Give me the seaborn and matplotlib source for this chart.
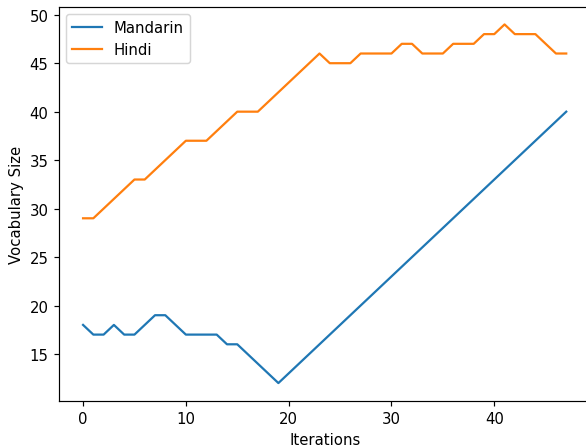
import matplotlib
matplotlib.use("Agg")
import matplotlib.pyplot as plt
import seaborn as sns
import pandas as pd

iterations = list(range(48))
mandarin = [18, 17, 17, 18, 17, 17, 18, 19, 19, 18, 17, 17, 17, 17, 16, 16, 15, 14, 13, 12,
            13, 14, 15, 16, 17, 18, 19, 20, 21, 22, 23, 24, 25, 26, 27, 28, 29, 30, 31, 32,
            33, 34, 35, 36, 37, 38, 39, 40]
hindi = [29, 29, 30, 31, 32, 33, 33, 34, 35, 36, 37, 37, 37, 38, 39, 40, 40, 40, 41, 42,
         43, 44, 45, 46, 45, 45, 45, 46, 46, 46, 46, 47, 47, 46, 46, 46, 47, 47, 47, 48,
         48, 49, 48, 48, 48, 47, 46, 46]

df = pd.DataFrame({"Iterations": iterations * 2,
                   "Vocabulary Size": mandarin + hindi,
                   "Language": ["Mandarin"] * 48 + ["Hindi"] * 48})

DPI = 107
fig = plt.figure(figsize=(586 / DPI, 448 / DPI), dpi=DPI)
ax = fig.add_axes([58.9 / 586, 46 / 448, 531.5 / 586, 394.5 / 448])
sns.lineplot(data=df, x="Iterations", y="Vocabulary Size", hue="Language",
             palette=["#1f77b4", "#ff7f0e"], ax=ax, linewidth=1.5)
ax.legend(loc="upper left")
ax.set_xticks([0, 10, 20, 30, 40])
ax.set_yticks([15, 20, 25, 30, 35, 40, 45, 50])
fig.savefig("out.png", dpi=DPI)
